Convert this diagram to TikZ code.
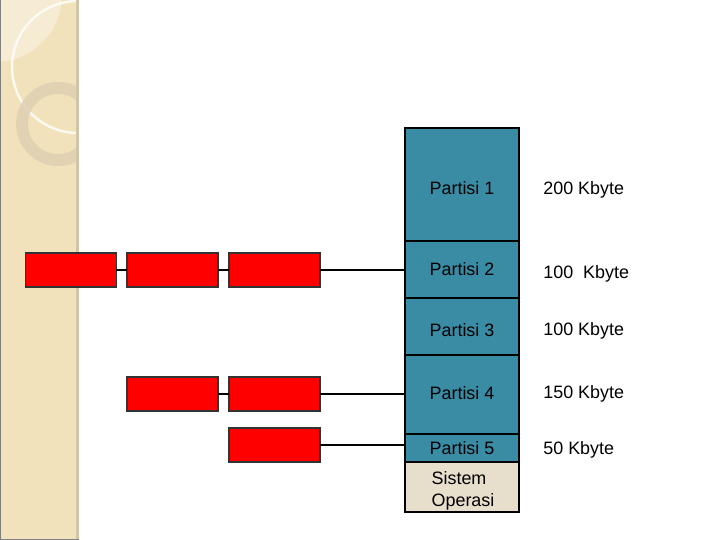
\documentclass[tikz,border=0pt]{standalone}
\usepackage{fontspec}
\setmainfont{Liberation Sans}
\usepackage{tikz}
\usetikzlibrary{positioning}

\definecolor{bandbeige}{HTML}{F2E2BC}
\definecolor{bandlight}{HTML}{F6EBD3}
\definecolor{bandedge}{HTML}{D1C5A7}
\definecolor{ringgray}{HTML}{DDD0B2}
\definecolor{memteal}{HTML}{3A8CA5}
\definecolor{osbeige}{HTML}{E7DECB}
\definecolor{procred}{HTML}{FF0000}

\tikzset{
  seg/.style={draw=black, line width=0.6pt, fill=memteal, minimum width=2.28cm,
    inner sep=0pt, outer sep=0pt},
  segtext/.style={inner sep=0pt, align=left, font=\fontsize{10.2}{12.8}\selectfont},
  proc/.style={draw=black!80, line width=0.6pt, fill=procred, minimum width=1.82cm,
    minimum height=0.68cm, inner sep=0pt, outer sep=0pt},
  size/.style={anchor=west, inner sep=0pt, font=\fontsize{10.2}{12.5}\selectfont},
  wire/.style={line width=0.6pt}
}

\begin{document}
\begin{tikzpicture}[x=0.02cm, y=-0.02cm]
			\useasboundingbox (0,0) rectangle (720,540);
			\fill[white] (0,0) rectangle (720,540);
			% Background band:
			\fill[bandbeige] (0,0) rectangle (79,540);
			\begin{scope}
				\clip (0,0) rectangle (76,540);
				\fill[bandlight] (-5,-5) circle (67);
				\draw[white, opacity=0.8, line width=1.4pt] (78,67) circle (66);
				\draw[ringgray, opacity=0.85, line width=6.8pt] (58,124) circle (36);
			\end{scope}
			\fill[bandedge] (76,0) rectangle (79,540);
			\draw[black!50, line width=0.6pt] (0.5,0) -- (0.5,539.5) -- (79,539.5);

			% Memory partitions:
			\node[seg, minimum height=2.26cm, label={[segtext, yshift=-0.08cm]center:Partisi 1}] (p1) at (462,184.5) {};
			\node[seg, minimum height=1.14cm, label={[segtext]center:Partisi 2}] (p2) at (462,269.5) {};
			\node[seg, minimum height=1.14cm, label={[segtext, yshift=-0.07cm]center:Partisi 3}] (p3) at (462,326.5) {};
			\node[seg, minimum height=1.58cm, label={[segtext, yshift=0.02cm]center:Partisi 4}] (p4) at (462,394.5) {};
			\node[seg, minimum height=0.56cm, label={[segtext, yshift=-0.01cm]center:Partisi 5}] (p5) at (462,448) {};
			\node[seg, fill=osbeige, minimum height=1.00cm,
				label={[segtext, yshift=-0.08cm, xshift=0.02cm]center:Sistem\\Operasi}] (os) at (462,487) {};

			% Partition sizes:
			\node[size] (s1) at (543,190) {200 Kbyte};
			\node[size] (s2) at (543,274) {100\ \ Kbyte};
			\node[size] (s3) at (543,331) {100 Kbyte};
			\node[size] (s4) at (543,394) {150 Kbyte};
			\node[size] (s5) at (543,450) {50 Kbyte};

			% Process queues:
			\node[proc] (q11) at (71,270) {};
			\node[proc] (q12) at (172.5,270) {};
			\node[proc] (q13) at (274.5,270) {};
			\node[proc] (q22) at (172.5,394) {};
			\node[proc] (q23) at (274.5,394) {};
			\node[proc] (q33) at (274.5,445) {};

			\draw[wire] (q11) -- (q12);
			\draw[wire] (q12) -- (q13);
			\draw[wire] (q13.east) -- (q13.east -| p2.west);
			\draw[wire] (q22) -- (q23);
			\draw[wire] (q23.east) -- (q23.east -| p4.west);
			\draw[wire] (q33.east) -- (q33.east -| p5.west);
		\end{tikzpicture}
\end{document}
